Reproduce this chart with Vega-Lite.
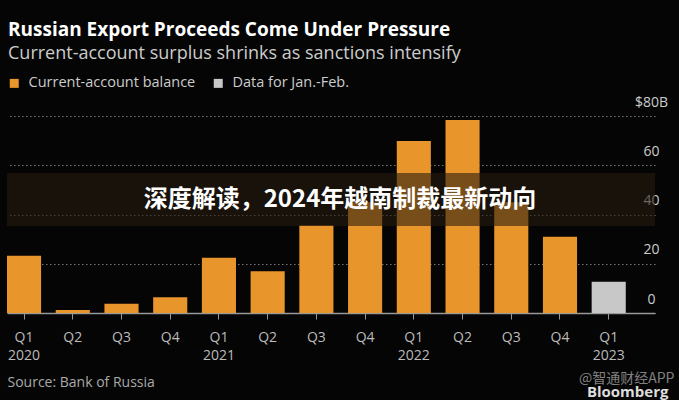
{
  "$schema": "https://vega.github.io/schema/vega-lite/v6.json",
  "width": 648,
  "height": 197,
  "autosize": {"type": "none"},
  "padding": {"left": 7, "top": 116, "right": 24, "bottom": 87},
  "background": "#050505",
  "config": {"view": {"stroke": null}},
  "title": {
    "text": "Russian Export Proceeds Come Under Pressure",
    "subtitle": "Current-account surplus shrinks as sanctions intensify",
    "anchor": "start",
    "frame": "group",
    "orient": "top",
    "font": "Open Sans",
    "fontSize": 19,
    "fontWeight": "bold",
    "color": "#ffffff",
    "subtitleFont": "Open Sans",
    "subtitleFontSize": 18,
    "subtitleColor": "#cccccc",
    "subtitlePadding": 5,
    "offset": 13,
    "dx": 1
  },
  "datasets": {
    "bars": [
      {"quarter": "Q1 2020", "value": 23.2, "series": "Current-account balance"},
      {"quarter": "Q2 2020", "value": 1.2, "series": "Current-account balance"},
      {"quarter": "Q3 2020", "value": 3.8, "series": "Current-account balance"},
      {"quarter": "Q4 2020", "value": 6.4, "series": "Current-account balance"},
      {"quarter": "Q1 2021", "value": 22.4, "series": "Current-account balance"},
      {"quarter": "Q2 2021", "value": 17.0, "series": "Current-account balance"},
      {"quarter": "Q3 2021", "value": 35.5, "series": "Current-account balance"},
      {"quarter": "Q4 2021", "value": 45.0, "series": "Current-account balance"},
      {"quarter": "Q1 2022", "value": 69.8, "series": "Current-account balance"},
      {"quarter": "Q2 2022", "value": 78.4, "series": "Current-account balance"},
      {"quarter": "Q3 2022", "value": 45.0, "series": "Current-account balance"},
      {"quarter": "Q4 2022", "value": 31.0, "series": "Current-account balance"},
      {"quarter": "Q1 2023", "value": 12.7, "series": "Data for Jan.-Feb."}
    ],
    "banner": [
      {"top": 56.9, "bottom": 35.3, "mid": 45.9, "text": "深度解读，2024年越南制裁最新动向"}
    ],
    "watermark": [
      {"quarter": "Q1 2023", "level": -27, "text": "@智通财经APP"}
    ]
  },
  "layer": [
    {
      "data": {"name": "bars"},
      "mark": {"type": "bar"},
      "encoding": {
        "x": {
          "field": "quarter",
          "type": "ordinal",
          "sort": null,
          "scale": {"paddingInner": 0.3, "paddingOuter": 0.3, "align": 0},
          "axis": {
            "title": "Source: Bank of Russia",
            "titleFont": "Open Sans",
            "titleFontSize": 14,
            "titleFontWeight": "normal",
            "titleColor": "#aaaaaa",
            "titleAnchor": "start",
            "titleAlign": "left",
            "titleBaseline": "alphabetic",
            "titleX": 0,
            "titleY": 73,
            "labelExpr": "indexof(datum.label, 'Q1') == 0 ? split(datum.label, ' ') : slice(datum.label, 0, 2)",
            "labelAngle": 0,
            "labelFont": "Open Sans",
            "labelFontSize": 14,
            "labelColor": "#bbbbbb",
            "labelLineHeight": 18,
            "labelPadding": 11,
            "domainColor": "#999999",
            "domainWidth": 1.5,
            "tickColor": "#999999",
            "tickSize": 6,
            "tickWidth": 1
          }
        },
        "y": {
          "field": "value",
          "type": "quantitative",
          "scale": {"domain": [0, 80], "nice": false},
          "axis": {
            "orient": "right",
            "values": [0, 20, 40, 60, 80],
            "labelExpr": "datum.value == 80 ? '$80B' : datum.label",
            "labelAlign": "center",
            "labelBaseline": "middle",
            "labelPadding": -4,
            "labelOffset": -14,
            "labelOverlap": false,
            "labelFont": "Open Sans",
            "labelFontSize": 14,
            "labelColor": "#cccccc",
            "domain": false,
            "ticks": false,
            "grid": true,
            "gridColor": "#777777",
            "gridDash": [1.5, 2.5],
            "gridWidth": 1,
            "title": "Bloomberg",
            "titleAngle": 0,
            "titleAlign": "right",
            "titleBaseline": "alphabetic",
            "titleX": 13,
            "titleY": 280,
            "titleFont": "Open Sans",
            "titleFontSize": 15,
            "titleFontWeight": "bold",
            "titleColor": "#dddddd"
          }
        },
        "color": {
          "field": "series",
          "type": "nominal",
          "scale": {
            "domain": ["Current-account balance", "Data for Jan.-Feb."],
            "range": ["#e8952c", "#c8c8c8"]
          },
          "legend": {
            "title": null,
            "orient": "top",
            "direction": "horizontal",
            "offset": 26,
            "symbolType": "square",
            "symbolSize": 81,
            "symbolStrokeWidth": 0,
            "symbolOpacity": 1,
            "labelFont": "Open Sans",
            "labelFontSize": 14.5,
            "labelColor": "#cccccc",
            "labelOffset": 7,
            "labelLimit": 0,
            "columnPadding": 15
          }
        }
      }
    },
    {
      "data": {"name": "banner"},
      "mark": {"type": "rect", "fill": "#261c0e", "opacity": 0.58},
      "encoding": {
        "y": {"field": "top", "type": "quantitative"},
        "y2": {"field": "bottom"}
      }
    },
    {
      "data": {"name": "banner"},
      "mark": {
        "type": "text",
        "font": "Noto Sans CJK SC",
        "fontSize": 24,
        "fontWeight": "bold",
        "color": "#ffffff",
        "align": "center",
        "baseline": "middle",
        "dx": 9
      },
      "encoding": {
        "y": {"field": "mid", "type": "quantitative"},
        "text": {"field": "text"}
      }
    },
    {
      "data": {"name": "watermark"},
      "mark": {
        "type": "text",
        "font": "Noto Sans CJK SC",
        "fontSize": 14,
        "color": "#aaaaaa",
        "opacity": 0.75,
        "align": "center",
        "baseline": "middle",
        "dx": 18,
        "clip": false
      },
      "encoding": {
        "x": {"field": "quarter", "type": "ordinal", "sort": null},
        "y": {"field": "level", "type": "quantitative"},
        "text": {"field": "text"}
      }
    }
  ]
}
